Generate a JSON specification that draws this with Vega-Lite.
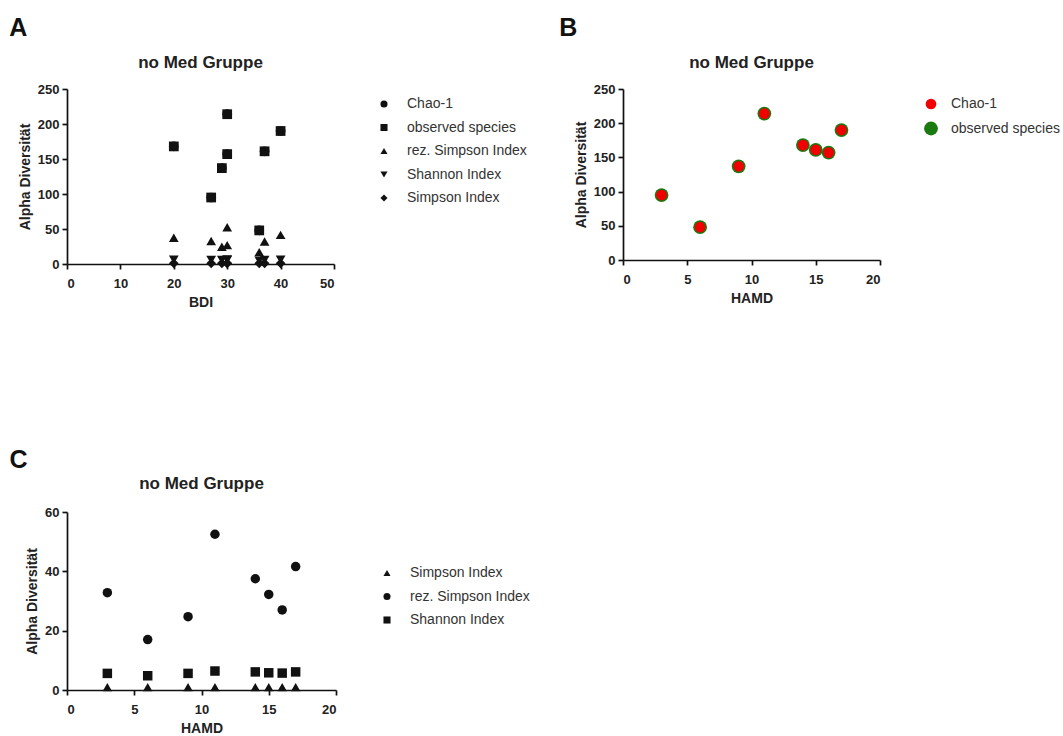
{
  "$schema": "https://vega.github.io/schema/vega-lite/v6.json",
  "padding": {"left": 9, "top": 16, "right": 0, "bottom": 5},
  "background": "white",
  "datasets": {
    "d": [
      {"BDI": 27, "HAMD": 3, "index": "observed species", "value": 95},
      {"BDI": 36, "HAMD": 6, "index": "observed species", "value": 48},
      {"BDI": 29, "HAMD": 9, "index": "observed species", "value": 137},
      {"BDI": 30, "HAMD": 11, "index": "observed species", "value": 214},
      {"BDI": 20, "HAMD": 14, "index": "observed species", "value": 168},
      {"BDI": 37, "HAMD": 15, "index": "observed species", "value": 161},
      {"BDI": 30, "HAMD": 16, "index": "observed species", "value": 157},
      {"BDI": 40, "HAMD": 17, "index": "observed species", "value": 190},
      {"BDI": 27, "HAMD": 3, "index": "Chao-1", "value": 95},
      {"BDI": 36, "HAMD": 6, "index": "Chao-1", "value": 48},
      {"BDI": 29, "HAMD": 9, "index": "Chao-1", "value": 137},
      {"BDI": 30, "HAMD": 11, "index": "Chao-1", "value": 214},
      {"BDI": 20, "HAMD": 14, "index": "Chao-1", "value": 168},
      {"BDI": 37, "HAMD": 15, "index": "Chao-1", "value": 161},
      {"BDI": 30, "HAMD": 16, "index": "Chao-1", "value": 157},
      {"BDI": 40, "HAMD": 17, "index": "Chao-1", "value": 190},
      {"BDI": 27, "HAMD": 3, "index": "rez. Simpson Index", "value": 32.8},
      {"BDI": 36, "HAMD": 6, "index": "rez. Simpson Index", "value": 17},
      {"BDI": 29, "HAMD": 9, "index": "rez. Simpson Index", "value": 24.7},
      {"BDI": 30, "HAMD": 11, "index": "rez. Simpson Index", "value": 52.5},
      {"BDI": 20, "HAMD": 14, "index": "rez. Simpson Index", "value": 37.5},
      {"BDI": 37, "HAMD": 15, "index": "rez. Simpson Index", "value": 32.2},
      {"BDI": 30, "HAMD": 16, "index": "rez. Simpson Index", "value": 27},
      {"BDI": 40, "HAMD": 17, "index": "rez. Simpson Index", "value": 41.6},
      {"BDI": 27, "HAMD": 3, "index": "Shannon Index", "value": 5.6},
      {"BDI": 36, "HAMD": 6, "index": "Shannon Index", "value": 4.8},
      {"BDI": 29, "HAMD": 9, "index": "Shannon Index", "value": 5.6},
      {"BDI": 30, "HAMD": 11, "index": "Shannon Index", "value": 6.4},
      {"BDI": 20, "HAMD": 14, "index": "Shannon Index", "value": 6.1},
      {"BDI": 37, "HAMD": 15, "index": "Shannon Index", "value": 5.8},
      {"BDI": 30, "HAMD": 16, "index": "Shannon Index", "value": 5.7},
      {"BDI": 40, "HAMD": 17, "index": "Shannon Index", "value": 6.1},
      {"BDI": 27, "HAMD": 3, "index": "Simpson Index", "value": 0.97},
      {"BDI": 36, "HAMD": 6, "index": "Simpson Index", "value": 0.94},
      {"BDI": 29, "HAMD": 9, "index": "Simpson Index", "value": 0.96},
      {"BDI": 30, "HAMD": 11, "index": "Simpson Index", "value": 0.98},
      {"BDI": 20, "HAMD": 14, "index": "Simpson Index", "value": 0.97},
      {"BDI": 37, "HAMD": 15, "index": "Simpson Index", "value": 0.97},
      {"BDI": 30, "HAMD": 16, "index": "Simpson Index", "value": 0.96},
      {"BDI": 40, "HAMD": 17, "index": "Simpson Index", "value": 0.98}
    ]
  },
  "config": {
    "font": "Liberation Sans",
    "view": {"stroke": null},
    "axis": {
      "grid": false,
      "domainColor": "#111",
      "domainWidth": 1.7,
      "tickColor": "#111",
      "tickWidth": 1.7,
      "tickSize": 5,
      "labelFontSize": 13,
      "labelFontWeight": "bold",
      "labelColor": "#222",
      "titleFontSize": 14,
      "titleFontWeight": "bold",
      "titleColor": "#222"
    },
    "axisX": {"labelPadding": 8, "titlePadding": 5},
    "axisY": {"labelPadding": 3, "titlePadding": 5},
    "title": {"fontSize": 17, "fontWeight": "bold", "color": "#222", "offset": 11},
    "legend": {
      "labelFontSize": 14,
      "labelColor": "#333",
      "rowPadding": 9.5,
      "symbolSize": 50,
      "offset": 34,
      "padding": 8,
      "labelOffset": 16,
      "title": null
    }
  },
  "resolve": {"scale": {"shape": "independent", "color": "independent", "size": "independent"}, "legend": {"shape": "independent", "color": "independent", "size": "independent"}},
  "spacing": 139,
  "align": "none",
  "vconcat": [
    {
      "resolve": {"scale": {"shape": "independent", "color": "independent", "size": "independent"}, "legend": {"shape": "independent", "color": "independent", "size": "independent"}},
      "spacing": 24,
      "hconcat": [
        {
          "title": {"text": "A", "anchor": "start", "fontSize": 25, "fontWeight": "bold", "color": "#111", "offset": 13, "dx": -9},
          "hconcat": [
            {
              "title": "no Med Gruppe",
              "width": 267,
              "height": 175,
              "data": {"name": "d"},
              "mark": {"type": "point", "filled": true, "opacity": 1, "size": 95},
              "encoding": {
                "x": {"field": "BDI", "type": "quantitative", "scale": {"domain": [0, 50], "nice": false}, "axis": {"values": [0, 10, 20, 30, 40, 50], "title": "BDI"}},
                "y": {"field": "value", "type": "quantitative", "scale": {"domain": [0, 250], "nice": false}, "axis": {"values": [0, 50, 100, 150, 200, 250], "title": "Alpha Diversität"}},
                "shape": {"field": "index", "type": "nominal", "scale": {"domain": ["Chao-1", "observed species", "rez. Simpson Index", "Shannon Index", "Simpson Index"], "range": ["circle", "square", "triangle-up", "triangle-down", "diamond"]}, "legend": {"title": null, "symbolFillColor": "#111", "symbolStrokeColor": "#111"}},
                "color": {"value": "#111"},
                "order": {"field": "index", "sort": "ascending"}
              }
            }
          ]
        },
        {
          "title": {"text": "B", "anchor": "start", "fontSize": 25, "fontWeight": "bold", "color": "#111", "offset": 13, "dx": -15},
          "hconcat": [
            {
              "title": "no Med Gruppe",
              "width": 257,
              "height": 171,
              "data": {"name": "d"},
              "transform": [{"filter": "datum.index === 'Chao-1' || datum.index === 'observed species'"}],
              "mark": {"type": "point", "filled": true, "opacity": 1},
              "encoding": {
                "x": {"field": "HAMD", "type": "quantitative", "scale": {"domain": [0, 20], "nice": false}, "axis": {"values": [0, 5, 10, 15, 20], "title": "HAMD"}},
                "y": {"field": "value", "type": "quantitative", "scale": {"domain": [0, 250], "nice": false}, "axis": {"values": [0, 50, 100, 150, 200, 250], "title": "Alpha Diversität"}},
                "color": {"field": "index", "type": "nominal", "scale": {"domain": ["Chao-1", "observed species"], "range": ["#f00000", "#1a7a10"]}, "legend": {"title": null, "labelOffset": 12}},
                "size": {"field": "index", "type": "nominal", "scale": {"domain": ["Chao-1", "observed species"], "range": [115, 190]}, "legend": {"title": null, "labelOffset": 12}},
                "order": {"field": "index", "sort": "descending"}
              }
            }
          ]
        }
      ]
    },
    {
      "title": {"text": "C", "anchor": "start", "fontSize": 25, "fontWeight": "bold", "color": "#111", "offset": 2, "dx": -16},
      "hconcat": [
        {
          "title": {"text": "no Med Gruppe", "offset": 13},
          "width": 269,
          "height": 178,
          "data": {"name": "d"},
          "transform": [{"filter": "datum.index === 'Simpson Index' || datum.index === 'rez. Simpson Index' || datum.index === 'Shannon Index'"}],
          "mark": {"type": "point", "filled": true, "opacity": 1, "size": 90},
          "encoding": {
            "x": {"field": "HAMD", "type": "quantitative", "scale": {"domain": [0, 20], "nice": false}, "axis": {"values": [0, 5, 10, 15, 20], "title": "HAMD"}},
            "y": {"field": "value", "type": "quantitative", "scale": {"domain": [0, 60], "nice": false}, "axis": {"values": [0, 20, 40, 60], "title": "Alpha Diversität"}},
            "shape": {"field": "index", "type": "nominal", "scale": {"domain": ["Simpson Index", "rez. Simpson Index", "Shannon Index"], "range": ["triangle-up", "circle", "square"]}, "legend": {"title": null, "orient": "none", "legendX": 305, "legendY": 46}},
            "color": {"value": "#111"}
          }
        }
      ]
    }
  ]
}
